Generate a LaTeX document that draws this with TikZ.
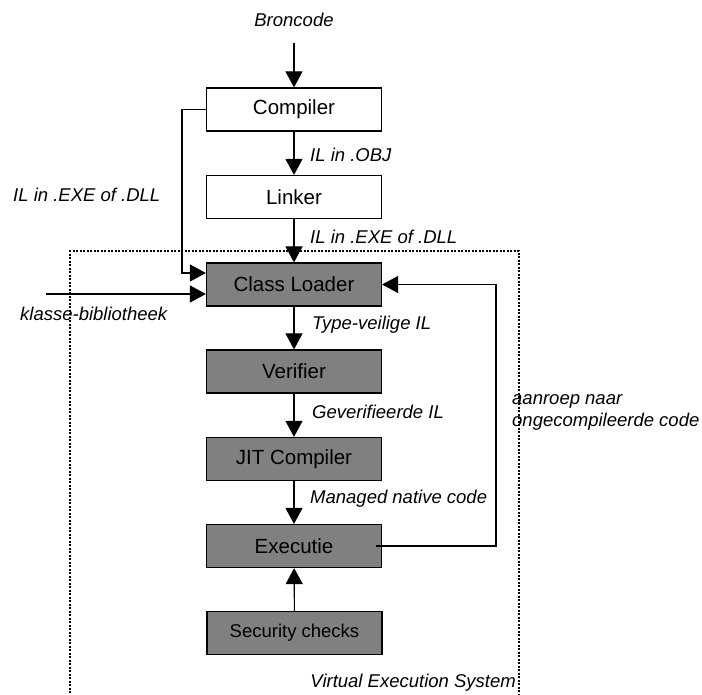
\documentclass[tikz,border=0pt]{standalone}
\usepackage{fontspec}
\setmainfont{Liberation Sans}
\usetikzlibrary{arrows.meta}
\definecolor{boxgray}{HTML}{808080}
\begin{document}
\begin{tikzpicture}[x=1pt,y=-1pt,
 box/.style={draw, line width=1.2pt, minimum width=175pt, minimum height=43pt, inner sep=0pt, font=\fontsize{20.5}{24}\selectfont},
 vbox/.style={box, fill=boxgray},
 lbl/.style={font=\fontsize{18.5}{22}\selectfont\itshape, inner sep=0pt},
 arr/.style={line width=1.1pt, -{Triangle[width=17pt,length=16pt]}},
 frame/.style={line width=2.2pt, dash pattern=on 2pt off 1.5pt}]
\useasboundingbox (0,0) rectangle (702,694);
% frame
\draw[frame] (70,700) -- (70,251) -- (519,251) -- (519,700);
% boxes
\node[box] (comp) at (294,109.5) {Compiler};
\node[box] (link) at (294,197) {Linker};
\node[vbox] (cl) at (294,284.5) {Class Loader};
\node[vbox] (ver) at (294,371.5) {Verifier};
\node[vbox] (jit) at (294,459) {JIT Compiler};
\node[vbox] (ex) at (294,546) {Executie};
\node[vbox, font=\fontsize{18.5}{22}\selectfont] (sec) at (294.5,633) {Security checks};
% labels
\node[lbl] (bron) at (294,20) {Broncode};
\node[lbl, anchor=west] (lobj) at (310,155) {IL in .OBJ};
\node[lbl, anchor=west] (lexe) at (310,237) {IL in .EXE of .DLL};
\node[lbl, anchor=west] (lexel) at (13,195) {IL in .EXE of .DLL};
\node[lbl, anchor=west] (lkl) at (20,314) {klasse-bibliotheek};
\node[lbl, anchor=west] (ltv) at (312,325) {Type-veilige IL};
\node[lbl, anchor=west] (lgv) at (312,412) {Geverifieerde IL};
\node[lbl, anchor=west] (lmn) at (310,499) {Managed native code};
\node[lbl, anchor=west, align=left] (lanr) at (512,412.5) {aanroep naar\\ongecompileerde code};
\node[lbl, anchor=east] (lves) at (516,683) {Virtual Execution System};
% connectors
\coordinate (bstart) at (294,43);
\draw[arr] (bstart) -- (comp.north);
\draw[arr] (comp) -- (link);
\draw[arr] (link) -- (cl);
\draw[arr] (cl) -- (ver);
\draw[arr] (ver) -- (jit);
\draw[arr] (jit) -- (ex);
\draw[arr] (sec) -- (ex);
\coordinate (cbend) at (182,273);
\draw[arr] (comp.west) -| (cbend) -- (cbend -| cl.west);
\coordinate (kstart) at (46,294);
\draw[arr] (kstart) -- (kstart -| cl.west);
\coordinate (exs) at ([xshift=-6pt]ex.east);
\coordinate (fbtop) at (496,284.5);
\draw[arr] (exs) -| (fbtop) -- (cl.east);
\end{tikzpicture}
\end{document}
